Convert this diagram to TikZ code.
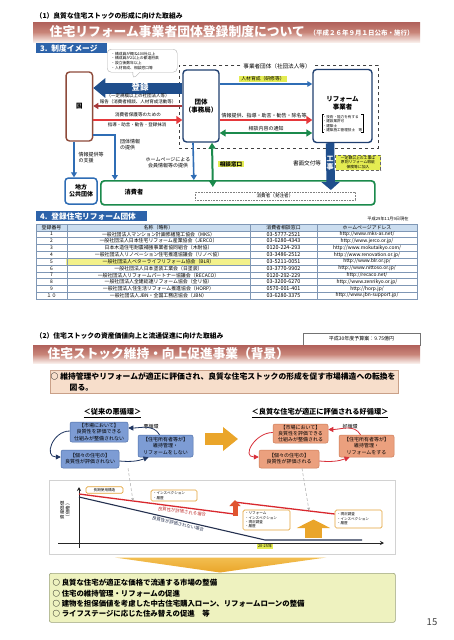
\documentclass[tikz,border=0pt]{standalone}
\usepackage{fontspec}
\setmainfont{Noto Sans CJK JP}
\usetikzlibrary{arrows.meta,shapes.callouts,calc}
\definecolor{banT}{HTML}{B0605A}
\definecolor{banM}{HTML}{C88478}
\definecolor{banB}{HTML}{F8ECE8}
\definecolor{secblue}{HTML}{2D63AA}
\definecolor{lblue}{HTML}{2F6DB5}
\definecolor{dblue}{HTML}{1F4E8C}
\definecolor{navyb}{HTML}{1F3F70}
\definecolor{brownb}{HTML}{8E4B3B}
\definecolor{gr}{HTML}{1B8A4C}
\definecolor{redA}{HTML}{E5383B}
\definecolor{dred}{HTML}{A8383A}
\definecolor{ylab}{HTML}{E4EC52}
\definecolor{cycB}{HTML}{7D9CD4}
\definecolor{cycBd}{HTML}{4F6FA8}
\definecolor{cycO}{HTML}{EBA07E}
\definecolor{cycOd}{HTML}{CC7A56}
\definecolor{cycArr}{HTML}{1F3560}
\definecolor{cycRed}{HTML}{D8303A}
\definecolor{orA}{HTML}{EAA52A}
\definecolor{chevT}{HTML}{F2BE50}
\definecolor{peach}{HTML}{F7DECB}
\definecolor{peachD}{HTML}{C9A088}
\definecolor{gbox}{HTML}{EEF2BF}
\definecolor{gboxD}{HTML}{9AA27A}
\definecolor{hdr}{HTML}{CBDDEF}
\definecolor{hl}{HTML}{F3F18A}
\definecolor{tgridc}{HTML}{7F97B5}
\definecolor{orB}{HTML}{E3A43A}
\definecolor{redL}{HTML}{D8282E}
\definecolor{redO}{HTML}{E05530}
\definecolor{navyL}{HTML}{24304F}
\definecolor{redT}{HTML}{C0302E}
\tikzset{
 fs/.style={font={\pgfmathsetmacro\lsk{#1*1.22}\fontsize{#1}{\lsk}\selectfont}, inner sep=0.5pt},
 fsb/.style={font={\pgfmathsetmacro\lsk{#1*1.22}\fontsize{#1}{\lsk}\selectfont\bfseries}, inner sep=0.5pt},
 secl/.style={fill=secblue, text=white, fsb=7.7, anchor=north west, minimum height=10pt, inner xsep=4pt, align=left},
 bx/.style={draw, fill=white, line width=1.4pt, rounded corners=3.5pt, fsb=6.5, align=center, inner sep=1pt},
 barr/.style={lblue, line width=1.6pt, -{Triangle[length=5pt,width=6pt]}},
 cb/.style={fill=cycB, draw=cycBd, line width=0.5pt, rounded corners=2pt, fs=5, align=center, inner sep=1pt},
 co/.style={fill=cycO, draw=cycOd, line width=0.5pt, rounded corners=2pt, fs=5, align=center, inner sep=1pt},
 ca/.style={draw=cycArr, line width=0.8pt, -{Triangle[length=5pt,width=5pt]}},
 cr/.style={draw=cycRed, line width=0.8pt, -{Triangle[length=5pt,width=5pt]}},
 cbx/.style={draw=orB, line width=0.7pt, fill=white, rounded corners=1.5pt, fs=3.6, align=left, inner sep=1pt},
 gda/.style={gray!65, densely dashed, line width=0.5pt, -{Stealth[length=3pt,width=3pt]}},
 axarr/.style={black!85, line width=0.9pt, -{Stealth[length=4pt,width=4pt]}},
 tc/.style={fs=4.9},
 tel/.style={fs=5.4},
 tgrid/.style={draw=tgridc, line width=0.4pt},
}
\newcommand{\tblrow}[5]{%
 \node[tc] (tn#1) at (51.5,{227.41+#1*6.818}) {#2};
 \node[tc] (tm#1) at (158.5,{227.41+#1*6.818}) {#3};
 \node[tel] (tt#1) at (283.5,{227.41+#1*6.818}) {#4};
 \node[tc] (tu#1) at (367,{227.41+#1*6.818}) {#5};}
\begin{document}
\begin{tikzpicture}[x=1pt,y=-1pt]
\useasboundingbox[fill=white] (0,0) rectangle (453,640);

% ===== header 1 =====
\node[fsb=6.8, anchor=west] (hd1) at (35,16) {（1）良質な住宅ストックの形成に向けた取組み};
\shade[top color=banT, bottom color=banB, middle color=banM] (33,22) rectangle (420,42);
\node[fsb=12.8, anchor=west, text=white] (ttl1) at (49,32) {住宅リフォーム事業者団体登録制度について};
\node[fsb=6.5, anchor=west, text=white] (sub1) at (309,33.5) {（平成２６年９月１日公布・施行）};

\node[secl, text width=63pt] (lab3) at (36,43) {3. 制度イメージ};

\node[rectangle callout, draw=gray!60, fill=white, rounded corners=4pt,
  callout absolute pointer={(133,79)}, fs=3.8, align=left, anchor=north west,
  minimum width=70pt, minimum height=23pt, text width=62pt] (bub) at (107,49)
  {・構成員が概ね100社以上\\・構成員が2以上の都道府県\\・設立後数年以上\\・人材育成、相談窓口等};

% dashed group
\node[draw=black!75, dashed, line width=0.7pt, anchor=north west, minimum width=199pt, minimum height=83pt] (dbox) at (179,65) {};
\node[fs=5.6, fill=white, inner xsep=2pt] (dlab) at (277,66) {事業者団体（社団法人等）};

% boxes
\node[bx, draw=brownb, minimum width=26.5pt, minimum height=69pt] (kuni) at (79.3,106.5) {国};
\node[bx, draw=navyb, minimum width=36pt, minimum height=72pt] (dantai) at (201,106) {団体\\（事務局）};
\node[bx, draw=navyb, minimum width=59pt, minimum height=73pt] (reform) at (342.5,106) {};
\node[fsb=6.5, align=center] (reft) at (342.5,103) {リフォーム\\事業者};
\node[fs=3.6, align=left] (refl) at (342.5,123.5) {・技術・能力を有する\\・建設業許可\\・建築士\\・建築施工管理技士　等};
\draw[line width=0.4pt] ([xshift=2pt]refl.north west) -- (refl.north west) -- (refl.south west) -- ([xshift=2pt]refl.south west);
\draw[line width=0.4pt] ([xshift=-2pt]refl.north east) -- (refl.north east) -- (refl.south east) -- ([xshift=-2pt]refl.south east);

% left arrows
\draw[dblue, line width=11pt, -{Triangle[length=12pt,width=19pt]}] ([yshift=18pt]dantai.west) -- ([yshift=18.5pt]kuni.east);
\node[fsb=8.5, text=white] (toroku) at (140,87.5) {登録};
\node[fs=4.5] (t1) at (138,95.5) {（一定規模以上の社団法人等）};
\node[fs=4.5] (t2) at (138,102) {報告（消費者相談、人材育成活動等）};
\draw[dred, line width=1.8pt, -{Triangle[length=5pt,width=6pt]}] (dantai.west) -- ([yshift=0.5pt]kuni.east);
\node[fs=4.6] (t3) at (138,115) {消費者保護等のための};
\draw[redA, line width=2.6pt, -{Triangle[length=6pt,width=8pt]}] ([yshift=-13.5pt]kuni.east) -- ([yshift=-14pt]dantai.west);
\node[fs=4.5] (t4) at (137,125) {指導・助言・勧告・登録抹消};

% right arrows
\node[fs=4.8, fill=ylab, inner xsep=2pt] (jinzai) at (263,79) {人材育成（研修等）};
\draw[lblue, line width=1.5pt, -{Triangle[length=5pt,width=5.5pt]}] ([yshift=22pt]dantai.east) -- ([yshift=22pt]reform.west);
\node[fs=5] (t5) at (264,115.5) {情報提供、指導・助言・勧告・除名等};
\draw[redA, line width=2.6pt, -{Triangle[length=6pt,width=8pt]}] ([yshift=-14pt]dantai.east) -- ([yshift=-14pt]reform.west);
\node[fs=5] (t6) at (266,128.5) {相談内容の通知};
\draw[gr, line width=2pt, {Triangle[length=6pt,width=7pt]}-{Triangle[length=6pt,width=7pt]}] ([yshift=-27pt]dantai.east) -- ([yshift=-27pt]reform.west);

% consumer and local government
\node[draw=gr, line width=1.7pt, rounded corners=3.5pt, fill=white, anchor=north west, minimum width=274pt, minimum height=24pt] (cons) at (100,180) {};
\node[fsb=6.2] (consT) at (134,192.5) {消費者};
\node[draw=black!50, densely dotted, line width=0.6pt, minimum width=160pt, minimum height=8pt, fs=4.6, fill=white] (consI) at (275,196) {消費者（発注者）};
\node[bx, draw=lblue, line width=1.5pt, minimum width=32pt, minimum height=26pt, fsb=6] (chiho) at (81,191) {地方\\公共団体};

\draw[barr] ([xshift=-5.3pt]kuni.south) -- ([xshift=-7pt]chiho.north);
\node[fs=5, align=left] (t7) at (91,158) {情報提供等\\の支援};
\draw[barr] ([yshift=-28.5pt]kuni.east) -| ([xshift=-123pt]cons.north);
\node[fs=5, align=left] (t8) at (130,145) {団体情報\\の提供};
\draw[barr] ([xshift=-8pt]dantai.south) -- ([xshift=-44pt]cons.north);
\node[fs=5, align=center] (t9) at (168,163) {ホームページによる\\会員情報等の提供};
\draw[gr, line width=2pt, {Triangle[length=6pt,width=7pt]}-{Triangle[length=6pt,width=7pt]}] ([xshift=11pt]dantai.south) -- ([xshift=-25pt,yshift=-7pt]cons.north);
\node[fsb=5.6, fill=ylab, inner xsep=2pt] (soudan) at (231,164) {相談窓口};
\node[fs=5.6] (shomen) at (307,163.5) {書面交付等};
\draw[dblue, line width=8.5pt, -{Triangle[length=8pt,width=18pt]}] ([xshift=-12.5pt]reform.south) -- ([xshift=93pt,yshift=-10pt]cons.north);
\node[fsb=7, text=white, align=center] (koji) at (330,163) {工\\事};
\node[draw=black!60, densely dashed, line width=0.4pt, fill=ylab, fs=3.8, align=center, minimum width=45pt, minimum height=15pt] (note) at (358,162.5) {一定額以上の工事は\\原則リフォーム瑕疵\\保険等に加入};

% ===== section 4 table =====
\node[secl, text width=103pt] (lab4) at (36,211) {4. 登録住宅リフォーム団体};
\node[fs=4.2] (date) at (388,218.5) {平成29年11月9日現在};
\fill[hdr] (36,224) rectangle (417,230.82);
\fill[hl] (66,258.09) rectangle (250,264.91);
\foreach \k in {1,...,10} \draw[tgrid] (36,{224+\k*6.818}) -- (417,{224+\k*6.818});
\foreach \xx in {67,250,317} \draw[tgrid] (\xx,224) -- (\xx,299);
\draw[tgrid, line width=0.6pt] (36,224) rectangle (417,299);
\node[tc] (hA) at (51.5,227.41) {登録番号};
\node[tc] (hB) at (158.5,227.41) {名称（略称）};
\node[tc] (hC) at (283.5,227.41) {消費者相談窓口};
\node[tc] (hD) at (367,227.41) {ホームページアドレス};
\tblrow{1}{1}{一般社団法人マンション計画修繕施工協会（MKS）}{03-5777-2521}{http://www.mks-as.net/}
\tblrow{2}{2}{一般社団法人日本住宅リフォーム産業協会（JERCO）}{03-6280-4343}{http://www.jerco.or.jp/}
\tblrow{3}{3}{日本木造住宅耐震補強事業者協同組合（木耐協）}{0120-224-293}{http://www.mokutaikyo.com/}
\tblrow{4}{4}{一般社団法人リノベーション住宅推進協議会（リノベ協）}{03-3486-2512}{http://www.renovation.or.jp/}
\tblrow{5}{5}{一般社団法人ベターライフリフォーム協会（BLR）}{03-5211-0051}{http://www.blr.or.jp/}
\tblrow{6}{6}{一般社団法人日本塗装工業会（日塗装）}{03-3770-9902}{http://www.nittoso.or.jp/}
\tblrow{7}{7}{一般社団法人リフォームパートナー協議会（RECACO）}{0120-292-229}{http://recaco.net/}
\tblrow{8}{8}{一般社団法人全建総連リフォーム協会（全リ協）}{03-3200-6270}{http://www.zenrikyo.or.jp/}
\tblrow{9}{9}{一般社団法人住生活リフォーム推進協会（HORP）}{0570-001-401}{http://horp.jp/}
\tblrow{10}{１０}{一般社団法人JBN・全国工務店協会（JBN）}{03-6280-3375}{http://www.jbn-support.jp/}

% ===== section 2 =====
\node[fsb=6.8, anchor=west] (hd2) at (35,336) {（2）住宅ストックの資産価値向上と流通促進に向けた取組み};
\node[draw=black!55, line width=0.5pt, fill=white, minimum width=117pt, minimum height=12pt, fs=5] (budget) at (361.5,339) {平成30年度予算案：9.75億円};
\shade[top color=banT, bottom color=banB, middle color=banM] (33,345) rectangle (420,363);
\node[fsb=12.7, anchor=west, text=white] (ttl2) at (47,354) {住宅ストック維持・向上促進事業（背景）};

\node[draw=peachD, fill=peach, line width=0.6pt, anchor=north west, minimum width=348pt, minimum height=23pt] (goal) at (50,370) {};
\node[fsb=7.8, anchor=west] (g1) at (50,376.5) {○ 維持管理やリフォームが適正に評価され、良質な住宅ストックの形成を促す市場構造への転換を};
\node[fsb=7.8, anchor=west] (g2) at (69,387.5) {図る。};

% cycles
\node[fsb=7.2] (cyc1) at (112.5,413) {\underline{＜従来の悪循環＞}};
\node[fsb=7.2] (cyc2) at (320,413) {\underline{＜良質な住宅が適正に評価される好循環＞}};

\node[cb, minimum width=58pt, minimum height=20pt] (bA) at (99,432) {【市場において】\\良質性を評価できる\\仕組みが整備されない};
\node[cb, minimum width=58pt, minimum height=18pt] (bB) at (90,459) {【個々の住宅の】\\良質性が評価されない};
\node[cb, minimum width=55pt, minimum height=22pt] (bC) at (165.5,446) {【住宅所有者等が】\\維持管理・\\リフォームをしない};
\node[fs=5] (aku) at (151,426.5) {悪循環};
\draw[ca] ([xshift=-6pt]bC.north) to[out=120, in=0] ([yshift=4pt]bA.east);
\draw[ca] ([yshift=1pt]bA.west) to[out=180, in=180, looseness=1.6] ([yshift=2pt]bB.west);
\draw[ca] ([yshift=-2pt]bB.east) to[out=-5, in=200] ([xshift=-17pt]bC.south);

\node[co, minimum width=55pt, minimum height=19pt] (oA) at (300.5,433.5) {【市場において】\\良質性を評価できる\\仕組みが整備される};
\node[co, minimum width=60pt, minimum height=18pt] (oB) at (289,459) {【個々の住宅の】\\良質性が評価される};
\node[co, minimum width=55pt, minimum height=22pt] (oC) at (366.5,446) {【住宅所有者等が】\\維持管理・\\リフォームをする};
\node[fs=5] (kou) at (350,427) {好循環};
\draw[cr] ([xshift=-6pt]oC.north) to[out=120, in=0] ([yshift=4pt]oA.east);
\draw[cr] ([yshift=1pt]oA.west) to[out=180, in=180, looseness=1.6] ([yshift=2pt]oB.west);
\draw[cr] ([yshift=-2pt]oB.east) to[out=-5, in=200] ([xshift=-17pt]oC.south);

\coordinate (oa1) at (205,439);
\coordinate (oa2) at (238,439);
\draw[orA, line width=12pt, -{Triangle[length=15pt,width=23pt]}] (oa1) -- (oa2);

% chart
\draw[gray!35, line width=0.6pt, fill=white] (49,480) rectangle (395,554);
\coordinate (ya0) at (79,548);
\coordinate (ya1) at (79,487);
\coordinate (xa0) at (58,543);
\coordinate (xa1) at (384,543);
\draw[axarr] (ya0) -- (ya1);
\draw[axarr] (xa0) -- (xa1);
\node[fs=4.5, rotate=90, align=center] (ylb) at (65,510) {資産価値\\（価格）};

\node[cbx, minimum width=37pt, minimum height=6.5pt, align=center] (c1) at (104.5,490) {長期使用構造};
\node[cbx, minimum width=46pt, minimum height=11pt, text width=42pt] (c2) at (174,495.5) {・インスペクション\\・履歴};
\node[cbx, minimum width=47pt, minimum height=20pt, text width=43pt] (c3) at (266.5,520) {・リフォーム\\・インスペクション\\・現況調査\\・履歴};
\node[cbx, minimum width=47pt, minimum height=18pt, text width=43pt] (c4) at (358.5,519) {・現況調査\\・インスペクション\\・履歴};

\coordinate (nl0) at (79,497);
\coordinate (nl1) at (265,540);
\coordinate (nl2) at (362,540);
\draw[navyL, line width=1.1pt] (nl0) -- (nl1) -- (nl2);
\coordinate (rl0) at (79,494);
\coordinate (rl1) at (234,514);
\coordinate (rl2) at (234,502);
\draw[redL, line width=1.3pt] (rl0) -- (rl1);
\draw[redL, line width=1.3pt] (rl2) -- ([yshift=5pt]c4.west);
\coordinate (ra0) at (235,516);
\coordinate (ra1) at (235,500);
\draw[redO, line width=5pt, -{Triangle[length=6pt,width=11pt]}] (ra0) -- (ra1);
\node[fs=4.4, text=redT, rotate=-7.4] (lr) at (182,511.5) {良質性が評価される場合};
\node[fs=4.4, text=navyL, rotate=-12.8] (ln) at (178,524) {良質性が評価されない場合};

\coordinate (da1) at (133,501);
\coordinate (da2) at (309,510.5);
\draw[gda] ([xshift=38pt]bB.south) -- (da1);
\draw[gda] ([xshift=13pt]oB.south) -- (da2);

\coordinate (ua0) at (313.5,537.5);
\coordinate (ua1) at (313.5,519.5);
\draw[orA, line width=17pt, -{Triangle[length=8.5pt,width=33pt]}] (ua0) -- (ua1);
\node[fs=3.9, fill=ylab, inner xsep=1.5pt, inner ysep=0.5pt] (yrs) at (265,546.5) {20-25年};

% chevron
\shade[top color=chevT, bottom color=orA] (115,557.5) -- (326,557.5) -- (220,572.5) -- cycle;

% result box
\node[draw=gboxD, fill=gbox, line width=0.6pt, rounded corners=2pt, anchor=north west, minimum width=346pt, minimum height=49pt] (res) at (49,573) {};
\node[fsb=7.4, anchor=west] (r1) at (52,583) {○ 良質な住宅が適正な価格で流通する市場の整備};
\node[fsb=7.4, anchor=west] (r2) at (52,593.2) {○ 住宅の維持管理・リフォームの促進};
\node[fsb=7.4, anchor=west] (r3) at (52,603.4) {○ 建物を担保価値を考慮した中古住宅購入ローン、リフォームローンの整備};
\node[fsb=7.4, anchor=west] (r4) at (52,613.6) {○ ライフステージに応じた住み替えの促進　等};

\node[fs=9.5, text=black!75] (pg) at (432,622.5) {15};
\end{tikzpicture}
\end{document}
